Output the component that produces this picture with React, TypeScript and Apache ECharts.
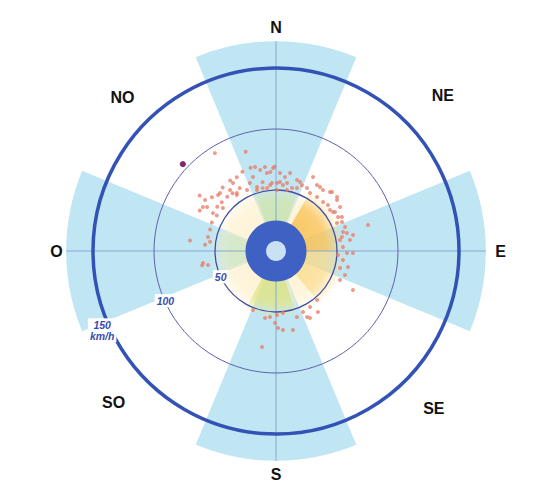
import { useEffect, useRef } from "react";
import * as echarts from "echarts";

// ---- data ----
const radiusMax = 190;
const directionLabels = ["N", "NE", "E", "SE", "S", "SO", "O", "NO"];
const directionAngle = [0, 47, 90, 135, 180, 227, 270, 315];
const directionRadius = [183, 187, 184, 183, 183, 182, 180, 178];

const sectorCenter = [0, 90, 180, 270];
const sectorWidth = [45, 45, 45, 45];
const sectorRadius = [172, 172, 172, 172];

const ringSpeeds = [50, 100, 150];
const ringLabels = ["50", "100", "150\nkm/h"];
const ringLabelAngle = [245, 245, 245];

const crossAngles = [0, 90];
const crossRadius = 172;

// density zones: outer radius, centre angle, angular width, inner radius
const zoneOuter = [54, 56, 52, 52, 54, 47, 25, 8];
const zoneCenter = [180, 85, 60, 0, 185, 270, 180, 180];
const zoneWidth = [360, 110, 60, 40, 45, 40, 360, 360];
const zoneInner = [24, 24, 24, 24, 24, 24, 8, 0];

// gusts [speed km/h, direction deg]
const gustPoints: [number, number][] = [
  [94.6, 328], [85, 343], [69, 327], [68.5, 332], [70.5, 337], [71.3, 343], [71, 346],
  [67.7, 349], [69.4, 352.5], [65, 356], [69, 359], [64, 2.9], [61, 6.9], [65, 10.2],
  [60.7, 16.5], [58, 21.5], [59.7, 339], [54.7, 343.5], [52.7, 348], [54.3, 355],
  [55.7, 0.8], [54.4, 6], [53.3, 14.3], [55.4, 334.6], [59.5, 330], [59.2, 323],
  [59.8, 318], [59.8, 312], [60.3, 307], [60.3, 301], [57.6, 294], [56.8, 288],
  [56.9, 281.6], [54.6, 278], [60.6, 260.7], [56.9, 258.4], [71, 277], [77.4, 306],
  [71.6, 305.7], [68.6, 310], [68, 320], [62.6, 323], [56, 325], [66, 314], [69.9, 301],
  [70.8, 298], [56, 309], [56.6, 301], [58.4, 275], [61.7, 259], [64.4, 353.4], [68, 358],
  [59.9, 19.2], [63.5, 342.7], [57.5, 349], [55.8, 356.6], [56.6, 3.3], [56.5, 9.2],
  [52.4, 342.7], [52.2, 352], [50, 0.9], [50.8, 10.2], [54.4, 18.4], [66, 327.7],
  [57.3, 326], [66, 316], [67, 302.5], [67.8, 26.6], [63.7, 34.5], [65.6, 42.5],
  [65.2, 50.1], [55.6, 37.2], [55.6, 52.8], [63.7, 55.5], [55.1, 30.4], [55.7, 43.8],
  [58, 56.5], [58, 61.3], [59.1, 66.3], [59.9, 70.8], [60, 75.8], [61.3, 81.5],
  [55.3, 78], [55, 86.6], [58.2, 91.6], [55.4, 97.7], [60.5, 102.5], [59.9, 109.2],
  [57.6, 114.4], [70.7, 116.9], [78.4, 74.2], [66.7, 43.5], [66.8, 48.5], [63.1, 37.6],
  [63.7, 31.8], [57.5, 26.2], [64.5, 78.3], [63.1, 91.5], [56.9, 48.5], [56.6, 55.6],
  [60.8, 62.7], [55, 65.3], [57.1, 74.2], [53.2, 80.2], [50.9, 93.7], [54.3, 104.9],
  [52.4, 140.1], [53.7, 148.7], [54.7, 156.1], [56.8, 162.4], [66.2, 167.9],
  [59.8, 154.8], [60.7, 145.5], [51.1, 173.6], [52.5, 179], [54.3, 185.2], [55.7, 189.3],
  [59, 180.8], [65, 175], [79.5, 188.3], [51.9, 201.3], [63.1, 178.5], [61.6, 153.1],
];

const extremePoints: [number, number][] = [[104.4, 313]];

// ---- styles ----
const zoneColors: [number, number, number, number][] = [
  [253, 236, 190, 0.6],
  [250, 205, 95, 0.5],
  [247, 178, 55, 0.5],
  [190, 226, 160, 0.6],
  [214, 226, 110, 0.65],
  [200, 232, 185, 0.5],
];
const solidZoneColors = ["#3f61c3", "#c8e2f4"];
const ringColors = ["#3e4ea8", "#5d62ae", "#3352b5"];
const ringWidths = [1.3, 1, 3.5];
const ringLabelOffsets = [[0, 0], [0, -2], [-8, 2]];

function sectorGeom(api: any) {
  const r1 = api.value(0);
  const c = api.value(1);
  const w = api.value(2);
  const r0 = api.value(3);
  const o = api.coord([0, c]);
  const cx = o[0];
  const cy = o[1];
  const a0 = (((c - w / 2) % 360) + 360) % 360;
  const a1 = (((c + w / 2) % 360) + 360) % 360;
  const p0 = api.coord([r1, a0]);
  const p1 = api.coord([r1, a1]);
  const pr = api.coord([r1, c]);
  const pr0 = api.coord([r0, c]);
  const R = Math.hypot(pr[0] - cx, pr[1] - cy);
  const R0 = Math.hypot(pr0[0] - cx, pr0[1] - cy);
  const s = Math.atan2(p0[1] - cy, p0[0] - cx);
  let e = Math.atan2(p1[1] - cy, p1[0] - cx);
  if (e <= s + 1e-9) e += Math.PI * 2;
  return { cx, cy, r: R, r0: R0, startAngle: s, endAngle: e, clockwise: true };
}

function sectorItem(api: any, style: any) {
  return { type: "sector", shape: sectorGeom(api), style, silent: true };
}

function fadedZone(api: any, rgba: [number, number, number, number]) {
  const g = sectorGeom(api);
  const [r, gg, b, a] = rgba;
  const c = (al: number) => `rgba(${r},${gg},${b},${al})`;
  const inner = g.r0 / g.r;
  return {
    type: "sector",
    shape: g,
    silent: true,
    style: {
      fill: {
        type: "radial",
        x: g.cx,
        y: g.cy,
        r: g.r,
        global: true,
        colorStops: [
          { offset: inner, color: c(a) },
          { offset: inner + (1 - inner) * 0.6, color: c(a * 0.85) },
          { offset: 1, color: c(0.05) },
        ],
      },
    },
  };
}

export default function App() {
  const ref = useRef<HTMLDivElement>(null);
  useEffect(() => {
    if (!ref.current) return;
    const chart = echarts.init(ref.current, undefined, { renderer: "svg" });
    chart.setOption({
      animation: false,
      backgroundColor: "#ffffff",
      textStyle: { fontFamily: "Liberation Sans, Arial, sans-serif" },
      polar: { center: [276, 251], radius: radiusMax * 1.22 },
      angleAxis: {
        type: "value",
        min: 0,
        max: 360,
        interval: 45,
        startAngle: 90,
        clockwise: true,
        axisLine: { show: false },
        axisTick: { show: false },
        splitLine: { show: false },
        axisLabel: { show: false },
      },
      radiusAxis: {
        type: "value",
        min: 0,
        max: radiusMax,
        axisLine: { show: false },
        axisTick: { show: false },
        axisLabel: { show: false },
        splitLine: { show: false },
      },
      series: [
        {
          type: "custom",
          coordinateSystem: "polar",
          z: 1,
          encode: { radius: 0, angle: 1 },
          data: sectorCenter.map((c, i) => [sectorRadius[i], c, sectorWidth[i], 0]),
          renderItem: (_p: any, api: any) => sectorItem(api, { fill: "#c0e6f4" }),
        },
        {
          type: "custom",
          coordinateSystem: "polar",
          z: 2,
          encode: { radius: 0, angle: 1 },
          data: zoneCenter.map((c, i) => [zoneOuter[i], c, zoneWidth[i], zoneInner[i]]),
          renderItem: (p: any, api: any) =>
            p.dataIndex >= 6
              ? { type: "group", children: [] }
              : fadedZone(api, zoneColors[p.dataIndex]),
        },
        {
          type: "custom",
          coordinateSystem: "polar",
          z: 3,
          encode: { radius: 0, angle: 1 },
          data: crossAngles.map((a) => [crossRadius, a]),
          renderItem: (_p: any, api: any) => {
            const a = api.value(1);
            const p1 = api.coord([api.value(0), a]);
            const p2 = api.coord([api.value(0), a + 180]);
            return {
              type: "line",
              shape: { x1: p1[0], y1: p1[1], x2: p2[0], y2: p2[1] },
              style: { stroke: "#86a8d6", lineWidth: 1 },
              silent: true,
            };
          },
        },
        {
          type: "custom",
          coordinateSystem: "polar",
          z: 4,
          encode: { radius: 0, angle: 1 },
          data: zoneCenter.map((c, i) => [zoneOuter[i], c, zoneWidth[i], zoneInner[i]]),
          renderItem: (p: any, api: any) =>
            p.dataIndex < 6
              ? { type: "group", children: [] }
              : sectorItem(api, { fill: solidZoneColors[p.dataIndex - 6] }),
        },
        {
          type: "custom",
          coordinateSystem: "polar",
          z: 5,
          encode: { radius: 0, angle: 1 },
          data: ringSpeeds.map((v) => [v, 0]),
          renderItem: (p: any, api: any) => {
            const o = api.coord([0, 0]);
            const q = api.coord([api.value(0), 0]);
            return {
              type: "circle",
              shape: { cx: o[0], cy: o[1], r: Math.hypot(q[0] - o[0], q[1] - o[1]) },
              style: {
                fill: "none",
                stroke: ringColors[p.dataIndex],
                lineWidth: ringWidths[p.dataIndex],
              },
              silent: true,
            };
          },
        },
        {
          type: "scatter",
          coordinateSystem: "polar",
          z: 6,
          symbolSize: 4,
          itemStyle: { color: "rgba(234,122,100,0.75)", opacity: 1 },
          data: gustPoints,
        },
        {
          type: "scatter",
          coordinateSystem: "polar",
          z: 6,
          symbolSize: 6,
          itemStyle: { color: "#7d2a6e", opacity: 1 },
          data: extremePoints,
        },
        {
          type: "scatter",
          coordinateSystem: "polar",
          z: 7,
          symbolSize: 0,
          itemStyle: { opacity: 1 },
          data: ringSpeeds.map((v, i) => ({
            value: [v, ringLabelAngle[i]],
            name: ringLabels[i],
            label: { offset: ringLabelOffsets[i] },
          })),
          label: {
            show: true,
            position: "inside",
            formatter: "{b}",
            backgroundColor: "#ffffff",
            padding: [1, 2],
            color: "#3a4db0",
            fontStyle: "italic",
            fontWeight: "bold",
            fontSize: 10.5,
            lineHeight: 11,
          },
        },
        {
          type: "scatter",
          coordinateSystem: "polar",
          z: 7,
          symbolSize: 0,
          itemStyle: { opacity: 1 },
          data: directionLabels.map((n, i) => ({
            value: [directionRadius[i], directionAngle[i]],
            name: n,
          })),
          label: {
            show: true,
            position: "inside",
            formatter: "{b}",
            color: "#111111",
            fontSize: 16,
            fontWeight: "bold",
          },
        },
      ],
    });
    return () => chart.dispose();
  }, []);
  return (
    <div
      ref={ref}
      style={{ position: "absolute", left: 0, top: 0, width: 540, height: 491 }}
    />
  );
}
